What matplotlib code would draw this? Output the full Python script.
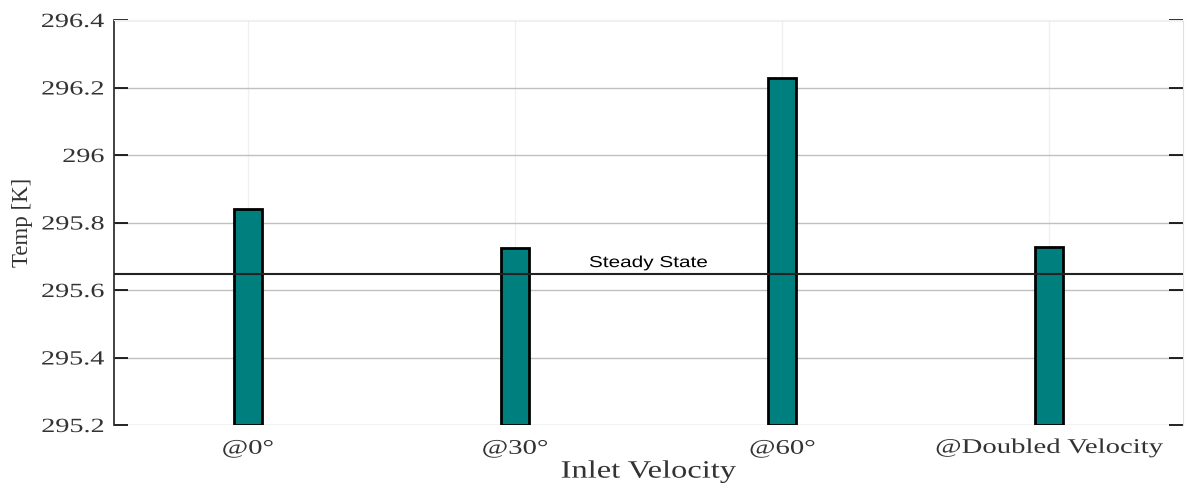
import matplotlib.pyplot as plt
import numpy as np
from matplotlib.patheffects import AbstractPathEffect
from matplotlib.transforms import Affine2D

# data
categories = ['@0°', '@30°', '@60°', '@Doubled Velocity']
temps = [295.84, 295.725, 296.227, 295.728]
steady_state = 295.647
y_ticks = [295.2, 295.4, 295.6, 295.8, 296.0, 296.2, 296.4]
y_tick_labels = ['295.2', '295.4', '295.6', '295.8', '296', '296.2', '296.4']

serif = ['Liberation Serif', 'DejaVu Serif']


# the source image is stretched sideways, so widen the horizontal texts a bit
class HStretch(AbstractPathEffect):
    def __init__(self, sx, anchor='center'):
        super().__init__()
        self.sx = sx
        self.anchor = anchor

    def draw_path(self, renderer, gc, tpath, affine, rgbFace=None):
        pts = affine.transform(tpath.vertices)
        if self.anchor == 'right':
            cx = pts[:, 0].max()
        else:
            cx = (pts[:, 0].min() + pts[:, 0].max()) / 2
        new = affine + Affine2D().translate(-cx, 0).scale(self.sx, 1).translate(cx, 0)
        renderer.draw_path(gc, tpath, new, rgbFace)


fig = plt.figure(figsize=(11.87, 4.84), dpi=100)
ax = fig.add_axes([114 / 1187, 1 - 425 / 484, (1183 - 114) / 1187, (425 - 20) / 484])

x = np.arange(1, len(categories) + 1)
base = y_ticks[0]
ax.bar(x, np.array(temps) - base, bottom=base, width=0.105,
       color='#007f7f', edgecolor='black', linewidth=2, zorder=3)

# steady state reference line
ax.axhline(steady_state, color='#222222', linewidth=1.5, zorder=4)
ax.text(2.5, steady_state + 0.012, 'Steady State', ha='center', va='bottom',
        fontsize=11.5, family=['Liberation Sans', 'DejaVu Sans'], zorder=5,
        path_effects=[HStretch(1.3)])

ax.set_xlim(0.5, 4.5)
ax.set_ylim(295.2, 296.4)
ax.set_xticks(x)
ax.set_xticklabels(categories, family=serif, fontsize=15, color='#333333')
ax.set_yticks(y_ticks)
ax.set_yticklabels(y_tick_labels, family=serif, fontsize=14.5, color='#333333')
for t in ax.get_xticklabels():
    t.set_path_effects([HStretch(1.38)])
for t in ax.get_yticklabels():
    t.set_path_effects([HStretch(1.4, anchor='right')])

ax.tick_params(axis='y', direction='in', length=10, right=True, width=1.2, pad=7)
ax.tick_params(axis='x', length=0, pad=10)

ax.grid(axis='y', color='#c0c0c0', linewidth=1, zorder=0)
ax.grid(axis='x', color='#f0f0f0', linewidth=1, zorder=0)

ax.spines['top'].set_color('#f0f0f0')
ax.spines['bottom'].set_visible(False)
ax.spines['right'].set_color('#e0e0e0')
ax.spines['left'].set_color('#333333')
ax.spines['left'].set_linewidth(1.3)

ax.set_xlabel('Inlet Velocity', family=serif, fontsize=18, color='#333333',
              path_effects=[HStretch(1.3)])
ax.xaxis.set_label_coords(0.5, -0.088)
ax.xaxis.label.set_va('top')
ax.set_ylabel('Temp [K]', family=serif, fontsize=16.5, color='#333333')
ax.yaxis.set_label_coords(-0.076, 0.5)

fig.savefig('out.png', dpi=100)
